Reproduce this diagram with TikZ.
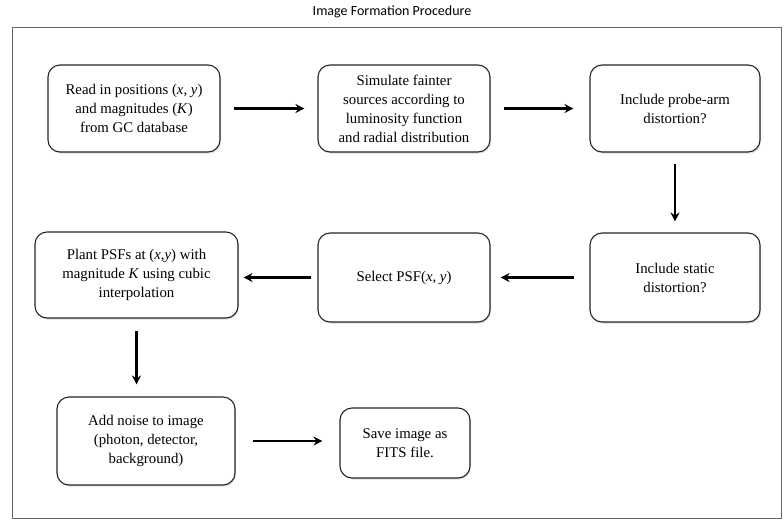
\documentclass[tikz,border=0pt]{standalone}
\usepackage{fontspec}
\setmainfont{Liberation Serif}
\newfontfamily\boxfont{Liberation Serif}
\newfontfamily\titlefont{Carlito}
\usetikzlibrary{arrows.meta,shadows}
\begin{document}
\begin{tikzpicture}[x=1pt,y=-1pt,
  stepbox/.style={draw=black!85,line width=1.1pt,rounded corners=12pt,fill=white,
    align=center,inner sep=2pt,font=\boxfont\fontsize{14.8}{19}\selectfont,
    drop shadow={shadow xshift=1pt,shadow yshift=-1.5pt,opacity=0.25}},
  flow/.style={line width=2.4pt,-{Stealth[length=9pt,width=9pt,inset=3pt]}}]
\useasboundingbox (0,0) rectangle (784,520);
\fill[white] (0,0) rectangle (784,520);
\node[font=\titlefont\fontsize{14}{16}\selectfont] (title) at (392,12) {Image Formation Procedure};
\draw[black!60,line width=0.9pt,drop shadow={shadow xshift=1pt,shadow yshift=-1pt,opacity=0.2},fill=white] (12,27) rectangle (781,518);
\node[stepbox,minimum width=172pt,minimum height=87pt] (b1) at (134,108.5)
  {Read in positions (\textit{x}, \textit{y})\\and magnitudes (\textit{K})\\from GC database};
\node[stepbox,minimum width=172pt,minimum height=87pt] (b2) at (404,108.5)
  {Simulate fainter\\sources according to\\luminosity function\\and radial distribution};
\node[stepbox,minimum width=170pt,minimum height=87pt] (b3) at (675,108.5)
  {Include probe-arm\\distortion?};
\node[stepbox,minimum width=170pt,minimum height=89pt] (b4) at (675,277.5)
  {Include static\\distortion?};
\node[stepbox,minimum width=172pt,minimum height=89pt] (b6) at (404,277.5)
  {Select PSF(\textit{x}, \textit{y})};
\node[stepbox,minimum width=203pt,minimum height=86pt] (b5) at (136.5,275)
  {Plant PSFs at (\textit{x},\textit{y}) with\\magnitude \textit{K} using cubic\\interpolation};
\node[stepbox,minimum width=178pt,minimum height=88pt] (b7) at (146,441)
  {Add noise to image\\(photon, detector,\\background)};
\node[stepbox,minimum width=130pt,minimum height=70pt] (b8) at (405,443)
  {Save image as\\FITS file.};
\draw[flow,shorten <=13pt,shorten >=13pt] (b1.east) -- (b1.east -| b2.west);
\draw[flow,shorten <=13pt,shorten >=16pt] (b2.east) -- (b2.east -| b3.west);
\draw[flow,shorten <=11pt,shorten >=11pt] (b3.south) -- (b4.north);
\draw[flow,shorten <=15pt,shorten >=10pt] (b4.west) -- (b4.west -| b6.east);
\draw[flow,shorten <=6pt,shorten >=5pt] (b6.west) -- (b6.west -| b5.east);
\draw[flow,shorten <=12pt,shorten >=12pt] (b5.south) -- (b5.south |- b7.north);
\draw[flow,shorten <=17pt,shorten >=17pt] (b7.east) -- (b7.east -| b8.west);
\end{tikzpicture}
\end{document}
